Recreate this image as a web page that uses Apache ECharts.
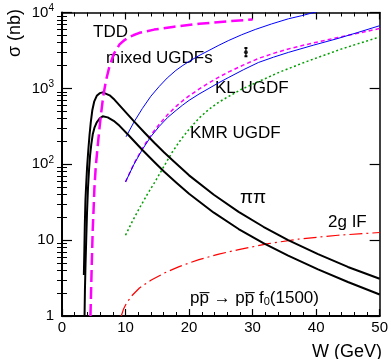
<!DOCTYPE html>
<html><head><meta charset="utf-8">
<script src="https://cdn.jsdelivr.net/npm/echarts@6/dist/echarts.min.js"></script>
<style>html,body{margin:0;padding:0;background:#fff}#c{width:391px;height:359px}</style>
</head><body><div id="c"></div>
<script>
// ---- tick values ----
const xTickValues = [0, 10, 20, 30, 40, 50];
const yMajorTicks = [1, 10, 100, 1000, 10000];
const yMinorTicks = [2,3,4,5,6,7,8,9,20,30,40,50,60,70,80,90,200,300,400,500,600,700,800,900,2000,3000,4000,5000,6000,7000,8000,9000];

// ---- series data: [W (GeV), sigma (nb)] ----
const pipiUpper = [[3.44,3.46],[3.52,7.4],[3.59,15.8],[3.69,33.6],[3.80,52.9],[3.95,91.4],[4.14,153],[4.33,241],[4.53,357],[4.77,514],[5.08,675],[5.47,797],[5.94,865],[6.41,886],[7.5,809],[8.28,706],[9.06,598],[10.23,465],[11.41,361],[12.97,262],[14.53,192],[16.09,143],[17.66,108],[20,71.4],[23.9,39.6],[27.8,23.6],[31.7,15.0],[35.6,10.0],[40.3,6.54],[45,4.43],[50,3.1]];
const pipiLower = [[3.55,1.0],[3.61,2.2],[3.70,4.69],[3.81,10],[3.94,23.4],[4.09,48.3],[4.27,88.6],[4.42,131],[4.61,183],[4.84,248],[5.13,307],[5.47,357],[5.94,403],[6.41,428],[7.19,415],[8.13,374],[9.06,321],[10.63,234],[12.66,154],[14.53,107],[16.09,79.5],[18.05,56.6],[20,40.9],[23.9,23.0],[27.8,14.0],[31.7,9.14],[35.6,6.25],[40.3,4.12],[45,2.81],[50,1.92]];
const tdd = [[4.48,1],[4.57,2],[4.66,4],[4.75,7.5],[4.84,14],[4.97,25],[5.1,48],[5.3,90],[5.6,168],[5.9,300],[6.15,465],[6.5,800],[6.93,1270],[7.5,2000],[8.2,2900],[9.06,3800],[9.8,4300],[10.5,4700],[11.3,5050],[12.2,5400],[14.5,5950],[17.4,6450],[21.6,7100],[26,7650],[30,8100]];
const mixedUGDF = [[10.08,230],[11.33,360],[12.66,545],[13.98,787],[15.31,1063],[16.56,1371],[17.92,1725],[18.91,1977],[20,2265],[21.56,2702],[23.13,3162],[24.69,3700],[26.25,4285],[28.28,5090],[30.42,5975],[32.97,7060],[35.63,8260],[37.66,9050],[40.2,10300]];
const klBlue = [[10,58.5],[11.33,100],[12.66,157],[13.98,231],[15.31,316],[16.64,414],[17.97,514],[18.98,601],[20,695],[21.56,841],[23.13,1000],[24.69,1189],[26.25,1396],[28.59,1766],[30.94,2198],[33.28,2575],[35.63,2978],[39.53,3701],[43.44,4550],[46.56,5455],[50,6700]];
const klMagenta = [[10,58.5],[11.33,102],[12.66,162],[13.98,242],[15.31,336],[16.64,452],[17.97,580],[18.98,685],[20,797],[21.56,979],[23.13,1181],[24.69,1409],[26.25,1649],[28.59,2038],[30.94,2483],[33.28,2890],[35.63,3311],[39.53,3970],[43.44,4690],[46.56,5325],[50,6150]];
const kmr = [[10,11.6],[11.09,17.8],[12.19,26.4],[13.44,40.3],[14.69,59.7],[16.02,93],[17.34,144],[18.67,209],[20,289],[21.56,405],[23.13,530],[24.69,658],[26.25,785],[28.28,973],[30.31,1164],[34.22,1634],[38.13,2198],[43.91,3290],[50,4760]];
const twoGluonIF = [[9.33,1.0],[9.69,1.24],[10.16,1.48],[10.94,1.83],[12.19,2.34],[14.06,2.98],[16.09,3.68],[18.44,4.48],[21.56,5.54],[24.69,6.54],[27.81,7.5],[32.5,9.0],[37.19,10.3],[43.44,11.6],[50,12.6]];
const dataPoint = [[28.95,3000]];
const dataErr = [[28.95,2650],[28.95,3400]];

const FONT = 'Liberation Sans, Arial, Helvetica, sans-serif';
const chart = echarts.init(document.getElementById('c'), null, {renderer:'canvas'});

function yAxisBase(pos, extra) {
  return Object.assign({
    type:'log', logBase:10, min:1, max:10000, position:pos,
    splitLine:{show:false}, minorSplitLine:{show:false}
  }, extra);
}
function curve(name, data, color, width, type) {
  return {name:name, type:'line', data:data, smooth:false, symbol:'none', clip:true,
    lineStyle:{color:color, width:width, type:type, join:'round', cap:'butt'}};
}

const option = {
  animation:false,
  backgroundColor:'#fff',
  grid:{left:62, right:9, top:12.5, bottom:43, containLabel:false},
  xAxis:[
    {type:'value', min:0, max:50, interval:10, position:'bottom',
     axisLine:{show:true, onZero:false, lineStyle:{color:'#000', width:2}},
     axisTick:{show:true, inside:true, length:7, lineStyle:{color:'#000', width:1.2}},
     minorTick:{show:true, splitNumber:5, length:4, lineStyle:{color:'#000', width:1}},
     axisLabel:{color:'#000', fontSize:15, fontFamily:FONT, margin:4},
     splitLine:{show:false}},
    {type:'value', min:0, max:50, interval:10, position:'top',
     axisLine:{show:true, onZero:false, lineStyle:{color:'#000', width:1.5}},
     axisTick:{show:true, inside:true, length:7, lineStyle:{color:'#000', width:1.2}},
     minorTick:{show:true, splitNumber:5, length:4, lineStyle:{color:'#000', width:1}},
     axisLabel:{show:false}, splitLine:{show:false}}
  ],
  yAxis:[
    yAxisBase('left', {
      axisLine:{show:true, onZero:false, lineStyle:{color:'#000', width:2}},
      axisTick:{show:true, inside:true, length:10, customValues:yMajorTicks, lineStyle:{color:'#000', width:1.2}},
      axisLabel:{color:'#000', fontSize:15, fontFamily:FONT, margin:8, customValues:yMajorTicks,
        formatter:function(v){
          if (v < 5) return '1';
          if (v < 50) return '10';
          return '10{sup|' + Math.round(Math.log10(v)) + '}';
        },
        rich:{sup:{fontSize:10, fontFamily:FONT, color:'#000', padding:[0,0,9,0]}}}
    }),
    yAxisBase('left', {
      axisLine:{show:false},
      axisTick:{show:true, inside:true, length:5, customValues:yMinorTicks, lineStyle:{color:'#000', width:1}},
      axisLabel:{show:false}
    }),
    yAxisBase('right', {
      axisLine:{show:true, onZero:false, lineStyle:{color:'#000', width:1.5}},
      axisTick:{show:true, inside:true, length:10, customValues:yMajorTicks, lineStyle:{color:'#000', width:1.2}},
      axisLabel:{show:false}
    }),
    yAxisBase('right', {
      axisLine:{show:false},
      axisTick:{show:true, inside:true, length:5, customValues:yMinorTicks, lineStyle:{color:'#000', width:1}},
      axisLabel:{show:false}
    })
  ],
  series:[
    curve('2g IF', twoGluonIF, '#ff0000', 1.2, [13,4,2,4]),
    curve('KMR UGDF', kmr, '#00a000', 1.5, [2,2.5]),
    curve('KL UGDF magenta', klMagenta, '#ff00ff', 1.5, [4,3]),
    curve('KL UGDF blue', klBlue, '#0000ff', 1, 'solid'),
    curve('mixed UGDFs', mixedUGDF, '#0000ff', 1, 'solid'),
    curve('pipi upper', pipiUpper, '#000000', 2, 'solid'),
    curve('pipi lower', pipiLower, '#000000', 2, 'solid'),
    curve('TDD', tdd, '#ff00ff', 2.5, [12,5]),
    {name:'err', type:'line', data:dataErr, symbol:'rect', symbolSize:[3,2], showSymbol:true,
     itemStyle:{color:'#000'}, lineStyle:{color:'#000', width:1.2}},
    {name:'point', type:'scatter', data:dataPoint, symbol:'circle', symbolSize:4, itemStyle:{color:'#000'}}
  ],
  graphic:[
    {type:'text', x:93, y:32, style:{text:'TDD', font:'17px '+FONT, fill:'#000', textVerticalAlign:'middle'}},
    {type:'text', x:106, y:58, style:{text:'mixed UGDFs', font:'17px '+FONT, fill:'#000', textVerticalAlign:'middle'}},
    {type:'text', x:215, y:88, style:{text:'KL UGDF', font:'17px '+FONT, fill:'#000', textVerticalAlign:'middle'}},
    {type:'text', x:190, y:133, style:{text:'KMR UGDF', font:'17px '+FONT, fill:'#000', textVerticalAlign:'middle'}},
    {type:'text', x:240, y:198, style:{text:'\u03c0\u03c0', font:'19px '+FONT, fill:'#000', textVerticalAlign:'middle'}},
    {type:'text', x:328, y:222, style:{text:'2g IF', font:'17px '+FONT, fill:'#000', textVerticalAlign:'middle'}},
    {type:'text', x:190, y:298, style:{text:'pp\u0305 \u2192 pp\u0305 f{sub|0}(1500)', font:'17px '+FONT, fill:'#000', textVerticalAlign:'middle',
       rich:{sub:{fontSize:11, fontFamily:FONT, fill:'#000', padding:[8,0,0,0]}}}},
    {type:'text', x:382, y:352, style:{text:'W (GeV)', font:'18px '+FONT, fill:'#000', textAlign:'right', textVerticalAlign:'middle'}},
    {type:'text', x:15, y:33, rotation:Math.PI/2, style:{text:'\u03c3 (nb)', font:'18px '+FONT, fill:'#000', textAlign:'center', textVerticalAlign:'middle'}}
  ]
};
chart.setOption(option);
</script>
</body></html>
